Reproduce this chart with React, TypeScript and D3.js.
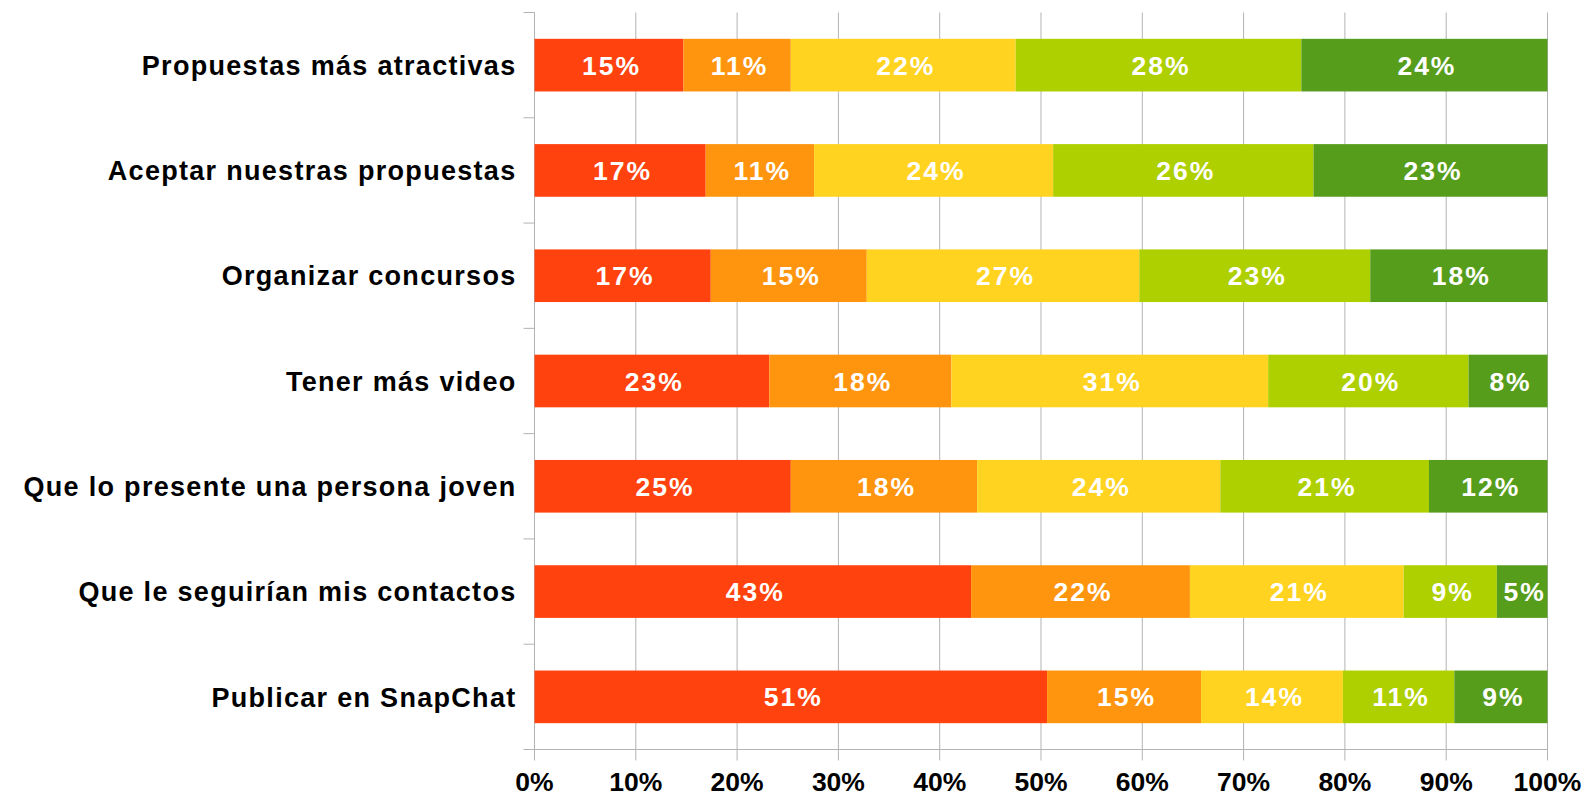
import React from 'react';
import * as d3 from 'd3';

// categories top to bottom
const categories = [
  'Propuestas más atractivas',
  'Aceptar nuestras propuestas',
  'Organizar concursos',
  'Tener más video',
  'Que lo presente una persona joven',
  'Que le seguirían mis contactos',
  'Publicar en SnapChat',
];

// five answer levels, values in %
const level1 = [14.7, 16.9, 17.4, 23.2, 25.3, 43.1, 50.6];
const level2 = [10.6, 10.7, 15.4, 18.0, 18.4, 21.6, 15.2];
const level3 = [22.2, 23.6, 26.9, 31.3, 24.0, 21.1, 14.0];
const level4 = [28.2, 25.7, 22.8, 19.8, 20.6, 9.2, 11.0];
const level5 = [24.3, 23.1, 17.5, 7.8, 11.7, 5.0, 9.2];

const labels1 = ['15%', '17%', '17%', '23%', '25%', '43%', '51%'];
const labels2 = ['11%', '11%', '15%', '18%', '18%', '22%', '15%'];
const labels3 = ['22%', '24%', '27%', '31%', '24%', '21%', '14%'];
const labels4 = ['28%', '26%', '23%', '20%', '21%', '9%', '11%'];
const labels5 = ['24%', '23%', '18%', '8%', '12%', '5%', '9%'];

const xTicks = [0, 0.1, 0.2, 0.3, 0.4, 0.5, 0.6, 0.7, 0.8, 0.9, 1];

const colors = ['#ff420e', '#ff950e', '#ffd320', '#aecf00', '#579d1c'];

const W = 1585;
const H = 795;
const margin = { top: 12.5, right: 37.5, bottom: 45.5, left: 534.5 };
const font = '"Liberation Sans", Arial, sans-serif';

export default function App() {
  const series = [level1, level2, level3, level4, level5];
  const seriesLabels = [labels1, labels2, labels3, labels4, labels5];
  const keys = ['l1', 'l2', 'l3', 'l4', 'l5'];

  const rows = categories.map((c, i) => {
    const row: any = { cat: c };
    const total = d3.sum(series, (s) => s[i]);
    keys.forEach((k, j) => (row[k] = series[j][i] / total));
    return row;
  });
  const stacked = d3.stack().keys(keys)(rows);

  const x = d3.scaleLinear().domain([0, 1]).range([margin.left, W - margin.right]);
  const y = d3
    .scaleBand()
    .domain(categories)
    .range([margin.top, H - margin.bottom])
    .paddingInner(0.5)
    .paddingOuter(0.25);
  const step = y.step();
  const bottom = H - margin.bottom;

  return (
    <svg width={W} height={H} style={{ position: 'absolute', left: 0, top: 0 }}>
      {/* vertical grid */}
      {xTicks.map((t) => (
        <line key={t} x1={x(t)} x2={x(t)} y1={margin.top} y2={bottom + 11} stroke="#b3b3b3" strokeWidth={1} />
      ))}
      {/* category axis */}
      <line x1={margin.left} x2={margin.left} y1={margin.top} y2={bottom} stroke="#b3b3b3" />
      {d3.range(categories.length + 1).map((i) => (
        <line
          key={i}
          x1={margin.left - 11}
          x2={margin.left}
          y1={margin.top + i * step}
          y2={margin.top + i * step}
          stroke="#b3b3b3"
        />
      ))}
      <line x1={margin.left} x2={W - margin.right} y1={bottom} y2={bottom} stroke="#b3b3b3" />

      {/* bars */}
      {stacked.map((s, j) => (
        <g key={s.key} fill={colors[j]}>
          {s.map((d, i) => (
            <rect
              key={i}
              x={x(d[0])}
              width={x(d[1]) - x(d[0])}
              y={y(categories[i])}
              height={y.bandwidth()}
            />
          ))}
        </g>
      ))}
      {stacked.map((s, j) =>
        s.map((d, i) => (
          <text
            key={s.key + i}
            x={(x(d[0]) + x(d[1])) / 2}
            y={(y(categories[i]) as number) + y.bandwidth() / 2}
            dx={2.5}
            dy="0.36em"
            textAnchor="middle"
            fill="#ffffff"
            fontFamily={font}
            fontWeight="bold"
            fontSize={26.5}
            letterSpacing={2}
          >
            {seriesLabels[j][i]}
          </text>
        ))
      )}

      {/* category labels */}
      {categories.map((c) => (
        <text
          key={c}
          x={margin.left - 18}
          y={(y(c) as number) + y.bandwidth() / 2}
          dy="0.36em"
          textAnchor="end"
          fontFamily={font}
          fontWeight="bold"
          fontSize={27}
          letterSpacing={1.3}
          fill="#000"
        >
          {c}
        </text>
      ))}

      {/* x tick labels */}
      {xTicks.map((t) => (
        <text
          key={t}
          x={x(t)}
          y={791}
          textAnchor="middle"
          fontFamily={font}
          fontWeight="bold"
          fontSize={26.5}
          fill="#000"
        >
          {d3.format('.0%')(t)}
        </text>
      ))}
    </svg>
  );
}
